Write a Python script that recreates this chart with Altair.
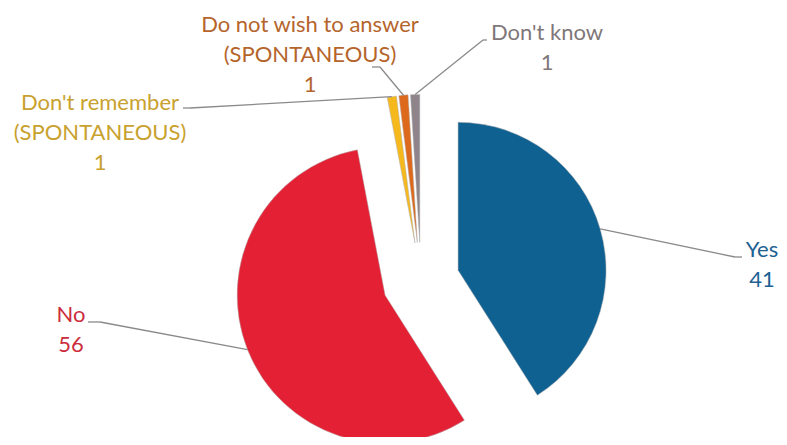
import altair as alt
import pandas as pd

# ---- data ----
categories = ["Yes", "No", "Don't remember (SPONTANEOUS)",
              "Do not wish to answer (SPONTANEOUS)", "Don't know"]
values = [41, 56, 1, 1, 1]
label_lines = [["Yes"], ["No"], ["Don't remember", "(SPONTANEOUS)"],
               ["Do not wish to answer", "(SPONTANEOUS)"], ["Don't know"]]

# ---- styles ----
slice_colors = ["#0f6192", "#e42134", "#f6b91d", "#dd6a1c", "#8e8489"]
text_colors = ["#1d6293", "#cc2d3d", "#c9a12e", "#b5652c", "#7f7779"]

# ---- layout (pixels in plot area) ----
W, H = 771, 429
CX, CY = 413, 273          # pie centre
EXPLODE = 38.6             # slice explosion distance
R = 148                    # pie radius
label_x = [754, 63, 92, 302, 539]
label_y0 = [242, 307, 95, 17, 25]
line_gap = 30
elbow_x = [727, 92, 182, 372, 475]
elbow_y = [249, 314, 100, 59, 32]
end_x = [734, 80, 175, 364, 479]
end_y = [249, 314, 100, 59, 32]

FONT = "Lato"
FS = 22

df = pd.DataFrame({
    "category": categories,
    "value": values,
    "order": list(range(len(categories))),
    "elbow_x": elbow_x, "elbow_y": elbow_y,
    "end_x": end_x, "end_y": end_y,
})

rows = []
for i, cat in enumerate(categories):
    lines = label_lines[i] + [str(values[i])]
    for j, t in enumerate(lines):
        rows.append({"category": cat, "text": t, "lx": label_x[i],
                     "ly": label_y0[i] + j * line_gap, "tcolor": text_colors[i]})
labels = pd.DataFrame(rows)

base = alt.Chart(df).transform_window(
    cum="sum(value)", sort=[{"field": "order"}]
).transform_joinaggregate(
    total="sum(value)"
).transform_calculate(
    t0="2*PI*(datum.cum-datum.value)/datum.total",
    t1="2*PI*datum.cum/datum.total",
).transform_calculate(
    mid="(datum.t0+datum.t1)/2"
).transform_calculate(
    ax=f"{CX}+{EXPLODE}*sin(datum.mid)",
    ay=f"{CY}-{EXPLODE}*cos(datum.mid)",
).transform_calculate(
    ox=f"datum.ax+{R}*sin(datum.mid)",
    oy=f"datum.ay-{R}*cos(datum.mid)",
)

arcs = base.mark_arc(radius=R, stroke="#b0b0b0", strokeWidth=0.5).encode(
    x=alt.X("ax:Q", scale=None, axis=None, stack=False),
    y=alt.Y("ay:Q", scale=None, axis=None, stack=False),
    theta=alt.Theta("t0:Q", scale=None, stack=False),
    theta2="t1:Q",
    color=alt.Color("category:N", scale=alt.Scale(domain=categories, range=slice_colors), legend=None),
)

lead1 = base.mark_rule(color="#8a8a8a", strokeWidth=1.3).encode(
    x=alt.X("ox:Q", scale=None, axis=None),
    y=alt.Y("oy:Q", scale=None, axis=None),
    x2="elbow_x:Q", y2="elbow_y:Q",
)
lead2 = base.mark_rule(color="#8a8a8a", strokeWidth=1.3).encode(
    x=alt.X("elbow_x:Q", scale=None, axis=None),
    y=alt.Y("elbow_y:Q", scale=None, axis=None),
    x2="end_x:Q", y2="end_y:Q",
)

texts = alt.Chart(labels).mark_text(font=FONT, fontSize=FS, align="center", baseline="middle").encode(
    x=alt.X("lx:Q", scale=None, axis=None),
    y=alt.Y("ly:Q", scale=None, axis=None),
    text="text:N",
    color=alt.Color("tcolor:N", scale=None),
)

chart = alt.layer(arcs, lead1, lead2, texts).properties(
    width=W, height=H, padding=0, autosize=alt.AutoSizeParams(type="none")
).configure_view(strokeWidth=0)

chart.save("out.html", embed_options={"renderer": "svg", "actions": False})
